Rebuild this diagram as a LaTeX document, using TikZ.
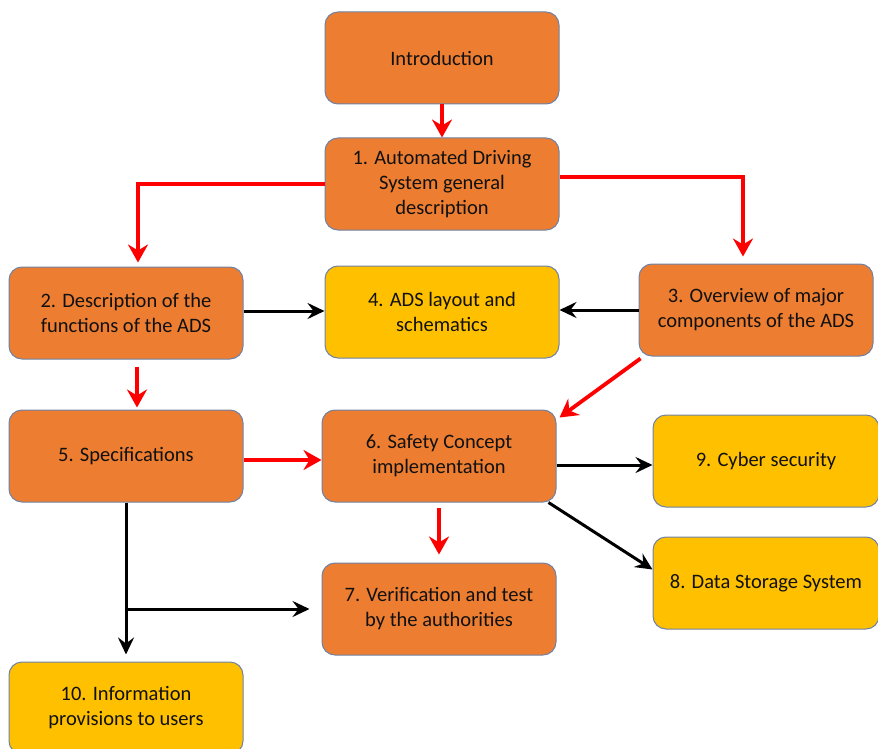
\documentclass[tikz,border=0pt]{standalone}
\usepackage{fontspec}
\setmainfont{Carlito}
\usetikzlibrary{arrows.meta,calc}
\definecolor{boxorange}{HTML}{ED7D31}
\definecolor{boxyellow}{HTML}{FFC000}
\definecolor{boxborder}{RGB}{110,130,165}
\definecolor{arrred}{HTML}{FF0000}
\definecolor{txt}{HTML}{111111}
\tikzset{
  box/.style={draw=boxborder, line width=1pt, rounded corners=13pt,
    minimum width=234pt, minimum height=92pt, inner sep=0pt,
    align=center, text=txt, font=\fontsize{20.5}{25}\selectfont},
  obox/.style={box, fill=boxorange},
  ybox/.style={box, fill=boxyellow},
  redarr/.style={draw=arrred, line width=3.8pt,
    -{Stealth[length=18pt,width=20pt,inset=6pt]}},
  blkarr/.style={draw=black, line width=3pt,
    -{Stealth[length=17pt,width=16pt,inset=6pt]}}
}
\begin{document}
\begin{tikzpicture}[x=1pt,y=-1pt]
\useasboundingbox (0,0) rectangle (878,749);
\node[obox] (intro) at (442,58) {Introduction};
\node[obox] (b1) at (442,184) {1. Automated Driving\\System general\\description};
\node[obox] (b2) at (126,313) {2. Description of the\\functions of the ADS};
\node[ybox] (b4) at (442,312) {4. ADS layout and\\schematics};
\node[obox] (b3) at (756,310) {3. Overview of major\\components of the ADS};
\node[obox] (b5) at (126,456) {5. Specifications};
\node[obox] (b6) at (439,456) {6. Safety Concept\\implementation};
\node[ybox, minimum width=226pt] (b9) at (766,461) {9. Cyber security};
\node[ybox, minimum width=226pt] (b8) at (766,583) {8. Data Storage System};
\node[obox] (b7) at (439,609) {7. Verification and test\\by the authorities};
\node[ybox] (b10) at (126,708) {10. Information\\provisions to users};

\draw[redarr] (intro.south) -- (b1.north);
\draw[redarr] (b1.west) -| ([xshift=12pt,yshift=4pt]b2.north);
\draw[redarr] ([yshift=7pt]b1.east) -| ([xshift=-13pt,yshift=7pt]b3.north);
\draw[blkarr] ([yshift=2pt]b2.east) -- ([yshift=1pt]b4.west);
\draw[blkarr] (b3.west) -- (b3.west -| b4.east);
\draw[redarr] ([xshift=11pt,yshift=-7pt]b2.south) -- ([xshift=11pt,yshift=2pt]b5.north);
\draw[redarr] ([yshift=-4pt]b5.east) -- ([yshift=-4pt]b6.west);
\draw[redarr] ([xshift=2pt,yshift=-2pt]b3.south west) -- ([xshift=3pt,yshift=-8pt]b6.north east);
\draw[blkarr] ([yshift=-9pt]b6.east) -- ([yshift=-4pt]b9.west);
\draw[blkarr] ([xshift=-8pt]b6.south east) -- ([yshift=-33pt]b8.north west);
\draw[redarr] ([yshift=-5pt]b6.south) -- ([yshift=8pt]b7.north);
\draw[blkarr] (b5.south) -- ([yshift=7pt]b10.north);
\draw[blkarr] ([xshift=-1.5pt]b5.south |- b7.west) -- ([xshift=-12pt]b7.west);
\end{tikzpicture}
\end{document}
